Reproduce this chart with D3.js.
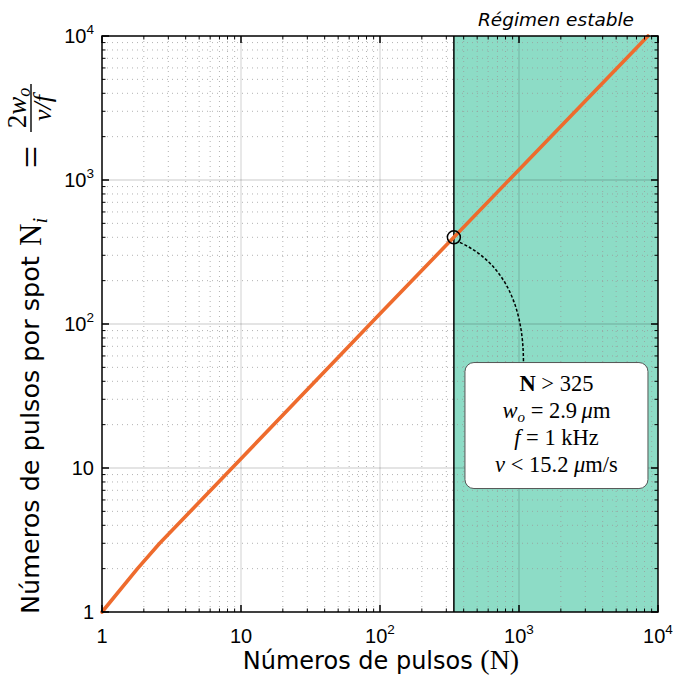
<!DOCTYPE html>
<html><head><meta charset="utf-8">
<script src="https://cdn.jsdelivr.net/npm/d3@7"></script>
<style>body{margin:0;background:#fff}svg{display:block}</style>
</head><body>
<svg id="c" width="673" height="680"></svg>
<script>
// ---- data ----
const pulsesN = [1, 1.8, 2.6, 10, 100, 340, 1000, 8475];
const pulsesPerSpot = [1, 2.0, 3.0, 11.6, 118, 400, 1180, 10000];
const thresholdN = 340;
const thresholdNi = 400;
const decadeTicks = [1, 10, 100, 1000, 10000];
const decadeLabels = [["1", ""], ["10", ""], ["10", "2"], ["10", "3"], ["10", "4"]];
const regionLabel = "Régimen estable";
const xLabelText = "Números de pulsos ";
const yLabelText = "Números de pulsos por spot";
const boxAnchor = [1860, 54];

// ---- layout ----
const L = 102, R = 658, T = 36, B = 612;
const svg = d3.select("#c");
const x = d3.scaleLog().domain([1, 1e4]).range([L, R]);
const y = d3.scaleLog().domain([1, 1e4]).range([B, T]);
const sans = "'DejaVu Sans', sans-serif";
const tickFont = "'Liberation Sans', 'DejaVu Sans', sans-serif";
const serif = "'Liberation Serif', 'DejaVu Serif', serif";

const minor = [];
for (let d = 1; d < 1e4; d *= 10) for (let k = 2; k <= 9; k++) minor.push(d * k);

// green region
svg.append("rect").attr("x", x(thresholdN)).attr("y", T)
  .attr("width", R - x(thresholdN)).attr("height", B - T).attr("fill", "#8ddcc6");

// grids
const g = svg.append("g");
g.selectAll(".mx").data(minor).join("line")
  .attr("x1", d => x(d)).attr("x2", d => x(d)).attr("y1", T).attr("y2", B)
  .attr("stroke", "#9a9a9a").attr("stroke-width", 1).attr("stroke-dasharray", "1,4").attr("opacity", 0.75);
g.selectAll(".my").data(minor).join("line")
  .attr("y1", d => y(d)).attr("y2", d => y(d)).attr("x1", L).attr("x2", R)
  .attr("stroke", "#9a9a9a").attr("stroke-width", 1).attr("stroke-dasharray", "1,4").attr("opacity", 0.75);
g.selectAll(".Mx").data(decadeTicks.slice(1, -1)).join("line")
  .attr("x1", d => x(d)).attr("x2", d => x(d)).attr("y1", T).attr("y2", B)
  .attr("stroke", "#000").attr("stroke-opacity", 0.14).attr("stroke-width", 1.3);
g.selectAll(".My").data(decadeTicks.slice(1, -1)).join("line")
  .attr("y1", d => y(d)).attr("y2", d => y(d)).attr("x1", L).attr("x2", R)
  .attr("stroke", "#000").attr("stroke-opacity", 0.14).attr("stroke-width", 1.3);

// region left border
svg.append("line").attr("x1", x(thresholdN)).attr("x2", x(thresholdN)).attr("y1", T).attr("y2", B)
  .attr("stroke", "#000").attr("stroke-width", 1.5);

// line
const pts = pulsesN.map((n, i) => [n, pulsesPerSpot[i]]);
svg.append("path").datum(pts)
  .attr("d", d3.line().x(d => x(d[0])).y(d => y(d[1])))
  .attr("fill", "none").attr("stroke", "#ee6b2d").attr("stroke-width", 3.6)
  .attr("stroke-linecap", "round").attr("stroke-linejoin", "round");

// marker
const mx = x(thresholdN), my = y(thresholdNi);
svg.append("circle").attr("cx", mx).attr("cy", my).attr("r", 6.5)
  .attr("fill", "none").attr("stroke", "#000").attr("stroke-width", 1.5);

// annotation box
const bx = x(boxAnchor[0]), by = y(boxAnchor[1]);
const bw = 183, bh = 126;
const p = d3.path();
p.moveTo(mx + 6, my + 5);
p.quadraticCurveTo(bx - 33, my + 35, bx - 33, by);
svg.append("path").attr("d", p.toString()).attr("fill", "none")
  .attr("stroke", "#000").attr("stroke-width", 1.5).attr("stroke-dasharray", "3,2");
svg.append("rect").attr("x", bx - bw / 2).attr("y", by).attr("width", bw).attr("height", bh)
  .attr("rx", 9).attr("fill", "#fff").attr("stroke", "#555").attr("stroke-width", 1);

const bt = svg.append("g").attr("font-family", serif).attr("font-size", 22.5).attr("text-anchor", "middle");
let t1 = bt.append("text").attr("x", bx).attr("y", by + 28);
t1.append("tspan").attr("font-weight", "bold").text("N");
t1.append("tspan").text(" > 325");
let t2 = bt.append("text").attr("x", bx).attr("y", by + 55);
t2.append("tspan").attr("font-style", "italic").text("w");
t2.append("tspan").attr("font-style", "italic").attr("font-size", 15).attr("dy", 4).text("o");
t2.append("tspan").attr("dy", -4).text(" = 2.9\u2009");
t2.append("tspan").attr("font-style", "italic").text("μ");
t2.append("tspan").text("m");
let t3 = bt.append("text").attr("x", bx).attr("y", by + 82);
t3.append("tspan").attr("font-style", "italic").text("f");
t3.append("tspan").text(" = 1 kHz");
let t4 = bt.append("text").attr("x", bx).attr("y", by + 109);
t4.append("tspan").attr("font-style", "italic").text("v");
t4.append("tspan").text(" < 15.2 ");
t4.append("tspan").attr("font-style", "italic").text("μ");
t4.append("tspan").text("m/s");

// frame
svg.append("rect").attr("x", L).attr("y", T).attr("width", R - L).attr("height", B - T)
  .attr("fill", "none").attr("stroke", "#000").attr("stroke-width", 1.5);

// ticks (inward, all sides)
const tk = svg.append("g").attr("stroke", "#000");
function ticks(vals, len, w) {
  vals.forEach(v => {
    const px = x(v), py = y(v);
    tk.append("line").attr("x1", px).attr("x2", px).attr("y1", B).attr("y2", B - len).attr("stroke-width", w);
    tk.append("line").attr("x1", px).attr("x2", px).attr("y1", T).attr("y2", T + len).attr("stroke-width", w);
    tk.append("line").attr("y1", py).attr("y2", py).attr("x1", L).attr("x2", L + len).attr("stroke-width", w);
    tk.append("line").attr("y1", py).attr("y2", py).attr("x1", R).attr("x2", R - len).attr("stroke-width", w);
  });
}
ticks(decadeTicks, 7, 1.5);
ticks(minor, 3.5, 1);

// tick labels
const tl = svg.append("g").attr("font-family", tickFont).attr("font-size", 20).attr("fill", "#000");
decadeTicks.forEach((v, i) => {
  const [base, sup] = decadeLabels[i];
  const tx = tl.append("text").attr("x", x(v)).attr("y", B + 31).attr("text-anchor", "middle");
  tx.append("tspan").text(base);
  if (sup) tx.append("tspan").attr("font-size", 13.5).attr("dy", -9).text(sup);
  const ty = tl.append("text").attr("x", L - 8).attr("y", y(v) + 7).attr("text-anchor", "end");
  ty.append("tspan").text(base);
  if (sup) ty.append("tspan").attr("font-size", 13.5).attr("dy", -9).text(sup);
});

// region title
svg.append("text").attr("x", 556).attr("y", 26)
  .attr("text-anchor", "middle").attr("font-family", sans).attr("font-style", "italic")
  .attr("font-size", 18.5).text(regionLabel);

// x label
const xl = svg.append("text").attr("x", 381).attr("y", 669).attr("text-anchor", "middle")
  .attr("font-family", sans).attr("font-size", 24);
xl.append("tspan").text(xLabelText);
xl.append("tspan").attr("font-family", serif).attr("font-size", 28).text("(N)");

// y label (rotated)
const yl = svg.append("g").attr("transform", "translate(39,0) rotate(-90)");
yl.append("text").attr("x", -614).attr("y", 0).attr("font-family", sans).attr("font-size", 25.5).text(yLabelText);
const ym = yl.append("text").attr("x", -246).attr("y", 2).attr("font-family", serif).attr("font-size", 31);
ym.append("tspan").text("N");
ym.append("tspan").attr("font-style", "italic").attr("font-size", 21).attr("dy", 6).text("i");
yl.append("text").attr("x", -157).attr("y", 6).attr("text-anchor", "middle").attr("font-family", serif)
  .attr("font-size", 40).text("=");
// fraction
const fx = -108;
yl.append("text").attr("x", fx).attr("y", -13).attr("text-anchor", "middle").attr("font-family", serif).attr("font-size", 27)
  .call(s => { s.append("tspan").text("2"); s.append("tspan").attr("font-style", "italic").text("w");
    s.append("tspan").attr("font-style", "italic").attr("font-size", 18).attr("dy", 4).text("o"); });
yl.append("line").attr("x1", fx - 24).attr("x2", fx + 24).attr("y1", -8).attr("y2", -8).attr("stroke", "#000").attr("stroke-width", 1.4);
yl.append("text").attr("x", fx).attr("y", 12).attr("text-anchor", "middle").attr("font-family", serif).attr("font-size", 26)
  .attr("font-style", "italic").text("v/f");
</script>
</body></html>
